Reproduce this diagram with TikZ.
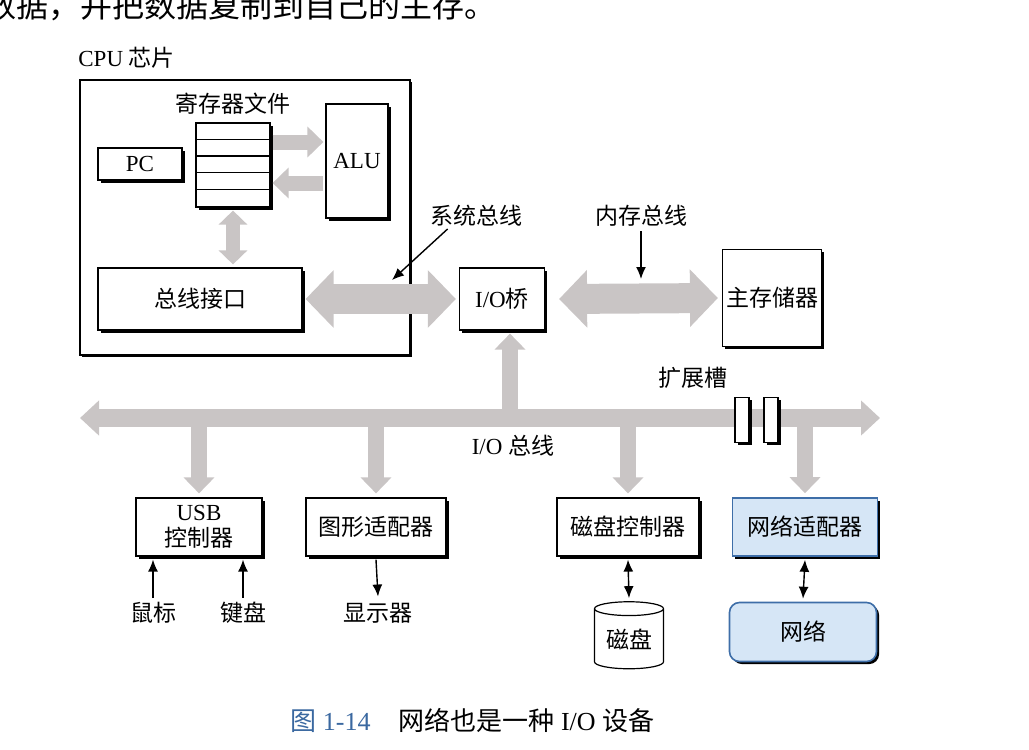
\documentclass[tikz,border=0pt]{standalone}
\usepackage{fontspec}
\setmainfont{Liberation Serif}
\newfontfamily\cjk{Noto Sans CJK SC}
\usetikzlibrary{arrows.meta,shapes.geometric,shadows}
\definecolor{busgray}{RGB}{201,197,197}
\definecolor{netblue}{RGB}{62,110,168}
\definecolor{netfill}{RGB}{214,230,246}
\definecolor{capblue}{RGB}{58,104,160}

\tikzset{
  box/.style={draw, line width=0.6pt, fill=white,
    drop shadow={shadow xshift=1.3pt, shadow yshift=-1.3pt, fill=black, opacity=1}},
  bluebox/.style={box, draw=netblue, fill=netfill, line width=0.8pt},
  bigbus/.style={line width=15pt, draw=busgray,
    {Triangle[width=28pt,length=14pt]}-{Triangle[width=28pt,length=14pt]}},
  iobus/.style={line width=9pt, draw=busgray,
    {Triangle[width=17pt,length=9.5pt]}-{Triangle[width=17pt,length=9.5pt]}},
  drop/.style={line width=8pt, draw=busgray, -{Triangle[width=15pt,length=8pt]}},
  smallone/.style={line width=7.5pt, draw=busgray, -{Triangle[width=15pt,length=8pt]}},
  smallboth/.style={line width=7pt, draw=busgray,
    {Triangle[width=14pt,length=7pt]}-{Triangle[width=14pt,length=7pt]}},
  thinarr/.style={line width=0.7pt, -{Latex[length=6pt,width=5pt]}},
  thinboth/.style={line width=0.7pt, {Latex[length=6pt,width=5pt]}-{Latex[length=6pt,width=5pt]}}
}

\begin{document}
\begin{tikzpicture}[x=0.5pt,y=-0.5pt,
  every node/.style={font=\fontsize{11.5}{13}\selectfont, inner sep=0pt}]
\useasboundingbox (0,0) rectangle (1029,750);

% page text above the figure
\node[anchor=west, font=\cjk\fontsize{16}{16}\selectfont] (toptext) at (-16,6) {数据，并把数据复制到自己的主存。};

% CPU chip
\node[anchor=west] (cpulbl) at (78,58) {CPU {\cjk 芯片}};
\node[draw, line width=1pt, minimum width=165pt, minimum height=137.5pt,
  drop shadow={shadow xshift=0.8pt, shadow yshift=-0.8pt, fill=black, opacity=1}, fill=white] (cpu) at (245,217.5) {};
\node (reglbl) at (233,104) {\cjk 寄存器文件};
\node[box, minimum width=37pt, minimum height=42pt] (regfile) at (233,165) {};
\foreach \i in {1,...,4}
  \draw[line width=0.6pt] ([yshift=-\i*8.4pt]regfile.north west) -- ([yshift=-\i*8.4pt]regfile.north east);
\node[box, minimum width=42pt, minimum height=16pt] (pc) at (140,164) {PC};
\node[box, minimum width=31pt, minimum height=57pt] (alu) at (357,161) {ALU};
\node[box, minimum width=102pt, minimum height=31pt] (busif) at (200,299) {\cjk 总线接口};

\draw[smallone] ([xshift=1pt,yshift=11.5pt]regfile.east) -- ([xshift=-1pt,yshift=9.5pt]alu.west);
\draw[smallone] ([xshift=-1pt,yshift=-11pt]alu.west) -- ([xshift=1pt,yshift=-9pt]regfile.east);
\draw[smallboth] ([yshift=-1.5pt]regfile.south) -- ([yshift=1.5pt]regfile.south |- busif.north);

% bridge and memory
\node[box, minimum width=42.5pt, minimum height=31pt] (bridge) at (502,299) {I/O\cjk 桥};
\node[box, minimum width=49.5pt, minimum height=48.5pt] (mem) at (772,298) {\cjk 主存储器};
\draw[bigbus] ([xshift=1.5pt]busif.east) -- ([xshift=-1.5pt]bridge.west);
\draw[bigbus] ([xshift=7pt]bridge.east) -- ([xshift=-2pt]mem.west);

\node (syslbl) at (476,216) {\cjk 系统总线};
\node (memlbl) at (641,216) {\cjk 内存总线};
\coordinate (sysptr) at (392,280);
\coordinate (memptr) at (641,279);
\draw[thinarr] ([xshift=9pt,yshift=-1pt]syslbl.south west) -- (sysptr);
\draw[thinarr] ([yshift=-2pt]memlbl.south) -- (memptr);

% I/O bus
\coordinate (busl) at (80,418);
\coordinate (busr) at (880,418);
\node[box, align=center, minimum width=63pt, minimum height=29pt] (usb) at (199,527) {USB\\{\cjk 控制器}};
\node[box, minimum width=70pt, minimum height=29pt] (gfx) at (376,527) {\cjk 图形适配器};
\node[box, minimum width=71pt, minimum height=29pt] (diskc) at (628,527) {\cjk 磁盘控制器};
\node[bluebox, minimum width=72.5pt, minimum height=29pt] (netad) at (805,527) {\cjk 网络适配器};

\draw[drop] (usb.north |- busl) -- ([yshift=2pt]usb.north);
\draw[drop] (gfx.north |- busl) -- ([yshift=2pt]gfx.north);
\draw[drop] (diskc.north |- busl) -- ([yshift=2pt]diskc.north);
\draw[drop] (netad.north |- busl) -- ([yshift=2pt]netad.north);
\draw[drop] ([xshift=4pt]bridge.south |- busl) -- ([xshift=4pt,yshift=-1.5pt]bridge.south);
\draw[iobus] (busl) -- (busr);

\node (slotlbl) at (693,378) {\cjk 扩展槽};
\node[box, minimum width=7pt, minimum height=22.5pt] (slota) at (742,420) {};
\node[box, minimum width=7pt, minimum height=22.5pt] (slotb) at (771,420) {};
\node (iobuslbl) at (513,446) {I/O {\cjk 总线}};

% devices
\node (mouse) at (153,613) {\cjk 鼠标};
\node (kbd) at (243,613) {\cjk 键盘};
\node (disp) at (378,613) {\cjk 显示器};
\draw[thinarr] ([yshift=2pt]mouse.north) -- ([yshift=-1.5pt]mouse.north |- usb.south);
\draw[thinarr] ([yshift=2pt]kbd.north) -- ([yshift=-1.5pt]kbd.north |- usb.south);
\draw[thinarr] ([yshift=-1.5pt]gfx.south) -- ([yshift=3pt]disp.north);

\node[cylinder, shape border rotate=90, aspect=0.3, draw, line width=0.6pt, fill=white,
  minimum width=34.5pt, minimum height=33.5pt] (disk) at (629,639) {\cjk 磁盘};
\node[bluebox, rounded corners=5pt, minimum width=73.5pt, minimum height=29.5pt] (net) at (803,632) {\cjk 网络};
\draw[thinboth] ([yshift=-1.5pt]diskc.south) -- ([yshift=1.5pt]disk.north);
\draw[thinboth] ([yshift=-1.5pt]netad.south) -- ([yshift=1.5pt]net.north);

% caption
\node[anchor=west, font=\fontsize{13}{15}\selectfont] (caption) at (290,720) {{\color{capblue}{\cjk 图} 1-14}\hspace{14pt}{\cjk 网络也是一种} I/O {\cjk 设备}};
\end{tikzpicture}
\end{document}
